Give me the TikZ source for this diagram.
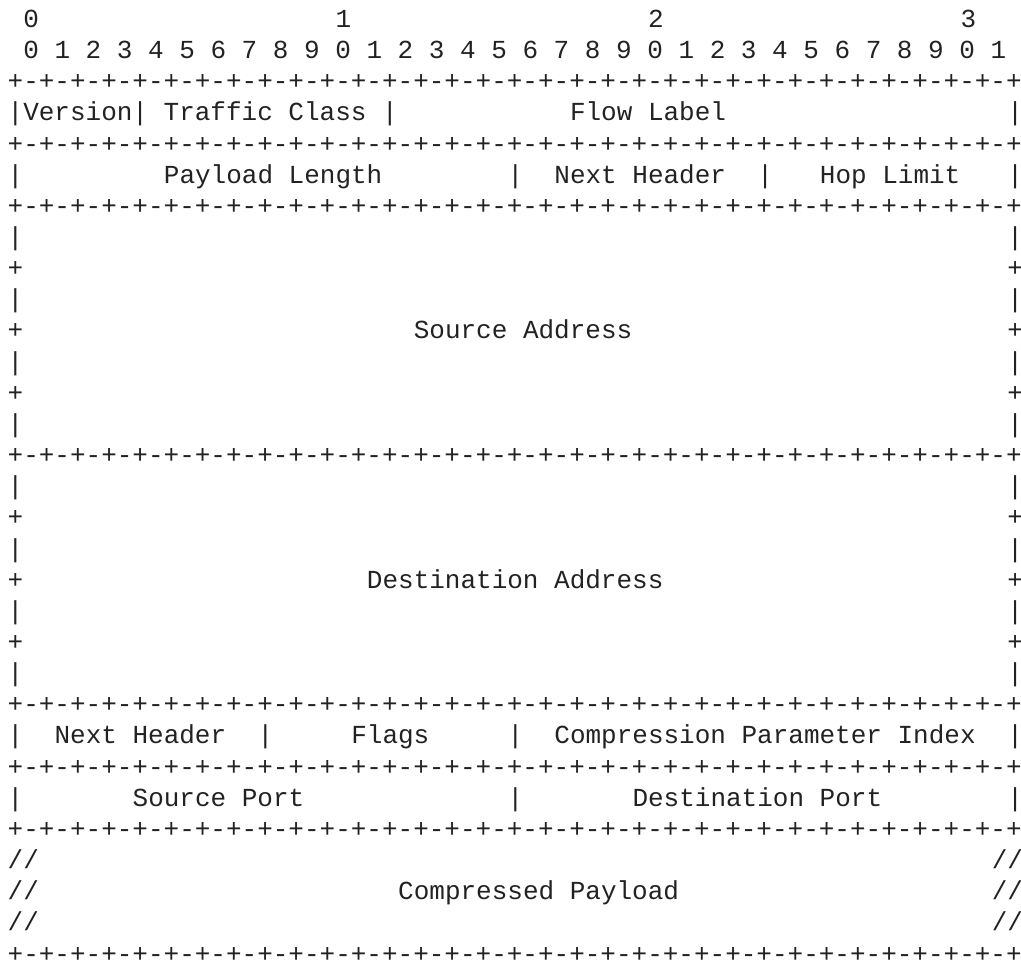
\documentclass[tikz,border=0pt]{standalone}
\usepackage{fontspec}
\newfontfamily\monofnt{Liberation Mono}[Numbers=SlashedZero]
\definecolor{ink}{HTML}{222222}
\newcommand\bord{+-+-+-+-+-+-+-+-+-+-+-+-+-+-+-+-+-+-+-+-+-+-+-+-+-+-+-+-+-+-+-+-+}
\newcommand\seg[4]{\node[txt] (#1) at ({7.7+15.62*(#2)},{27.5+31.15*((#3)-1)}) {#4};}
\begin{document}
\begin{tikzpicture}[x=1pt,y=-1pt,
  txt/.style={anchor=base west,inner sep=0pt,outer sep=0pt,text=ink,
    font=\monofnt\fontsize{26}{31}\selectfont}]
\useasboundingbox (0,0) rectangle (1021,965);
% header rulers
\seg{t0}{1}{1}{0}
\seg{t1}{21}{1}{1}
\seg{t2}{41}{1}{2}
\seg{t3}{61}{1}{3}
\seg{bits}{1}{2}{0 1 2 3 4 5 6 7 8 9 0 1 2 3 4 5 6 7 8 9 0 1 2 3 4 5 6 7 8 9 0 1}
% borders
\seg{b3}{0}{3}{\bord}
\seg{b5}{0}{5}{\bord}
\seg{b7}{0}{7}{\bord}
\seg{b15}{0}{15}{\bord}
\seg{b23}{0}{23}{\bord}
\seg{b25}{0}{25}{\bord}
\seg{b27}{0}{27}{\bord}
\seg{b31}{0}{31}{\bord}
% row 4
\seg{ver}{0}{4}{|Version| Traffic Class |}
\seg{flow}{36}{4}{Flow Label}
\seg{r4}{64}{4}{|}
% row 6
\seg{l6}{0}{6}{|}
\seg{plen}{10}{6}{Payload Length}
\seg{m6a}{32}{6}{|}
\seg{nh}{35}{6}{Next Header}
\seg{m6b}{48}{6}{|}
\seg{hop}{52}{6}{Hop Limit}
\seg{r6}{64}{6}{|}
% source and destination address blocks
\foreach \r in {8,10,12,14,16,18,20,22}{
  \seg{lb\r}{0}{\r}{|}
  \seg{rb\r}{64}{\r}{|}
}
\foreach \r in {9,11,13,17,19,21}{
  \seg{lp\r}{0}{\r}{+}
  \seg{rp\r}{64}{\r}{+}
}
\seg{src}{26}{11}{Source Address}
\seg{dst}{23}{19}{Destination Address}
% row 24
\seg{l24}{0}{24}{|}
\seg{nh2}{3}{24}{Next Header}
\seg{m24a}{16}{24}{|}
\seg{flags}{22}{24}{Flags}
\seg{m24b}{32}{24}{|}
\seg{cpi}{35}{24}{Compression Parameter Index}
\seg{r24}{64}{24}{|}
% row 26
\seg{l26}{0}{26}{|}
\seg{sport}{8}{26}{Source Port}
\seg{m26}{32}{26}{|}
\seg{dport}{40}{26}{Destination Port}
\seg{r26}{64}{26}{|}
% payload
\foreach \r in {28,29,30}{
  \seg{ls\r}{0}{\r}{//}
  \seg{rs\r}{63}{\r}{//}
}
\seg{cp}{25}{29}{Compressed Payload}
\end{tikzpicture}
\end{document}
